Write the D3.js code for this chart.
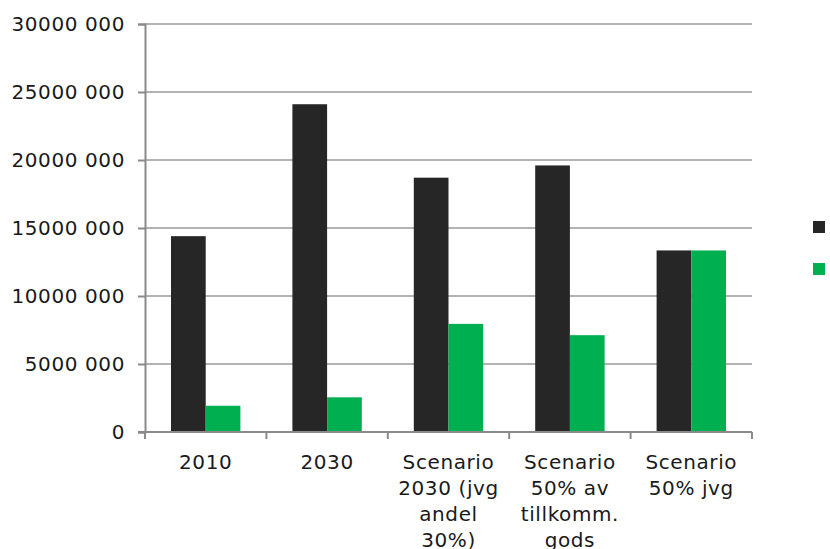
<!DOCTYPE html>
<html>
<head>
<meta charset="utf-8">
<script src="https://cdn.jsdelivr.net/npm/d3@7"></script>
<style>
  body { margin: 0; background: #fff; }
  text { font-family: "DejaVu Sans", Verdana, sans-serif; fill: #1a1a1a; }
</style>
</head>
<body>
<svg id="chart" width="830" height="549"></svg>
<script>
// categories (multi-line labels) and the two series
var categories = ["2010", "2030", "Scenario 2030", "Scenario 50% av", "Scenario 50% jvg"];
var categoryLines = [
  ["2010"],
  ["2030"],
  ["Scenario", "2030 (jvg", "andel", "30%)"],
  ["Scenario", "50% av", "tillkomm.", "gods"],
  ["Scenario", "50% jvg"]
];
var seriesNames = ["Väg", "Järnväg"];
var seriesA = [14400000, 24100000, 18700000, 19600000, 13350000];
var seriesB = [1930000, 2550000, 7950000, 7120000, 13350000];
var yTicks = [0, 5000000, 10000000, 15000000, 20000000, 25000000, 30000000];
var colors = ["#262626", "#00b050"];

var margin = { top: 24, left: 145, right: 78, bottom: 117 },
  width = 830 - margin.left - margin.right,
  height = 549 - margin.top - margin.bottom;

var svg = d3.select("#chart")
var g = svg.append("g")
  .attr("transform", "translate(" + margin.left + "," + margin.top + ")")

var x = d3.scaleBand()
  .domain(categories)
  .range([0, width])
  .paddingInner(0)
  .paddingOuter(0)

var y = d3.scaleLinear()
  .domain([0, 30000000])
  .range([height, 0])

var fmt = function (v) { return v === 0 ? "0" : (v / 1000) + " 000"; }

// gridlines
g.selectAll(".grid")
  .data(yTicks.slice(1))
  .enter()
  .append("line")
  .attr("x1", 0)
  .attr("x2", width)
  .attr("y1", d => y(d))
  .attr("y2", d => y(d))
  .attr("stroke", "#9a9a9a")
  .attr("stroke-width", 1.6)

// y axis
var yAxis = g.append("g")
  .call(d3.axisLeft(y).tickValues(yTicks).tickFormat(fmt).tickSize(7).tickPadding(13))
yAxis.select(".domain").attr("stroke", "#8a8a8a").attr("stroke-width", 2)
yAxis.selectAll(".tick line").attr("stroke", "#8a8a8a").attr("stroke-width", 2)
yAxis.selectAll("text")
  .style("font-size", "20px")
  .style("letter-spacing", "0.6px")
  .attr("fill", "#1a1a1a")
  .attr("font-family", null)

// bars
var pad = 26
var barW = (x.bandwidth() - 2 * pad) / 2
var groups = g.selectAll(".cat")
  .data(categories)
  .enter()
  .append("g")
  .attr("transform", d => "translate(" + x(d) + ",0)")

groups.append("rect")
  .attr("x", pad)
  .attr("y", (d, i) => y(seriesA[i]))
  .attr("width", barW)
  .attr("height", (d, i) => height - y(seriesA[i]))
  .attr("fill", colors[0])

groups.append("rect")
  .attr("x", pad + barW)
  .attr("y", (d, i) => y(seriesB[i]))
  .attr("width", barW)
  .attr("height", (d, i) => height - y(seriesB[i]))
  .attr("fill", colors[1])

// x axis line and ticks at band boundaries
g.append("line")
  .attr("x1", -7).attr("x2", width)
  .attr("y1", height).attr("y2", height)
  .attr("stroke", "#8a8a8a").attr("stroke-width", 2)

var bounds = categories.map(d => x(d)).concat([width])
g.selectAll(".xtick")
  .data(bounds)
  .enter()
  .append("line")
  .attr("x1", d => d).attr("x2", d => d)
  .attr("y1", height).attr("y2", height + 7)
  .attr("stroke", "#8a8a8a").attr("stroke-width", 2)

// category labels
groups.append("text")
  .attr("text-anchor", "middle")
  .style("font-size", "20px")
  .style("letter-spacing", "0.6px")
  .selectAll("tspan")
  .data((d, i) => categoryLines[i])
  .enter()
  .append("tspan")
  .attr("x", x.bandwidth() / 2)
  .attr("y", (d, j) => height + 37 + j * 26)
  .text(d => d)

// legend (labels fall outside the visible area)
var legend = svg.append("g")
seriesNames.forEach(function (name, i) {
  legend.append("rect")
    .attr("x", 813)
    .attr("y", 221 + i * 42)
    .attr("width", 12)
    .attr("height", 12)
    .attr("fill", colors[i])
})
</script>
</body>
</html>
